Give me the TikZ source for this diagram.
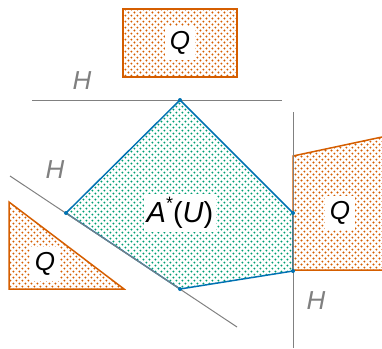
\documentclass[tikz,border=0pt]{standalone}
\usepackage{fontspec}
\setmainfont{Liberation Sans}
\usetikzlibrary{patterns.meta}
\definecolor{vermil}{HTML}{D55E00}
\definecolor{bgreen}{HTML}{009E73}
\definecolor{oblue}{HTML}{0072B2}
\tikzdeclarepattern{
  name=dotgrid,
  type=uncolored,
  bounding box={(0pt,0pt) and (6.4pt,6.4pt)},
  tile size={(6.4pt,6.4pt)},
  code={
    \fill (1.6pt,1.6pt) circle (1.15pt);
    \fill (4.8pt,4.8pt) circle (1.15pt);
  }
}
\begin{document}
\begin{tikzpicture}[x=1pt, y=-1pt, line join=miter,
    qset/.style = {draw=vermil, line width=1.5pt, pattern={dotgrid}, pattern color=vermil},
    aset/.style = {draw=oblue, line width=1.5pt, pattern={dotgrid}, pattern color=bgreen},
    hline/.style = {draw=gray, line width=1pt},
    lbl/.style = {fill=white, inner sep=5pt, font=\fontsize{26}{30}\selectfont\itshape},
    hlbl/.style = {text=gray, inner sep=0pt, font=\fontsize{26}{30}\selectfont\itshape},
    vtx/.style = {fill=oblue, circle, inner sep=0pt, minimum size=4pt}]
    \useasboundingbox (0,0) rectangle (382,348);

    % the sets Q
    \draw[qset] (123,9) rectangle (237,77);
    \draw[qset] (9,202) -- (9,289) -- (124,289) -- cycle;
    \draw[qset] (382,137) -- (293,156) -- (293,270) -- (382,270);

    % the set A*(U)
    \coordinate (t) at (180,100);
    \coordinate (ru) at (293,213);
    \coordinate (rl) at (293,271);
    \coordinate (b) at (180,289);
    \coordinate (l) at (66,213);
    \draw[aset] (t) -- (ru) -- (rl) -- (b) -- (l) -- cycle;

    % the hyperplanes H
    \coordinate (h1a) at (32,100);  \coordinate (h1b) at (282,100);
    \coordinate (h2a) at (10,176);  \coordinate (h2b) at (237,327);
    \coordinate (h3a) at (293,112); \coordinate (h3b) at (293,348);
    \draw[hline] (h1a) -- (h1b);
    \draw[hline] (h2a) -- (h2b);
    \draw[hline] (h3a) -- (h3b);

    \foreach \v in {t,ru,rl,b,l} \node[vtx] at (\v) {};

    % labels
    \node[lbl] (q1) at (180,43) {Q};
    \node[lbl] (q2) at (45,264) {Q};
    \node[lbl] (q3) at (340,213) {Q};
    \node[lbl, inner sep=3pt, font=\fontsize{29}{32}\selectfont\itshape] (au) at (180,213)
      {A\raisebox{0.45em}{\fontsize{18}{20}\selectfont\upshape *}\upshape(\itshape U\upshape)};
    \node[hlbl] (H1) at (82,81) {H};
    \node[hlbl] (H2) at (55,170) {H};
    \node[hlbl] (H3) at (316,301) {H};
\end{tikzpicture}
\end{document}
